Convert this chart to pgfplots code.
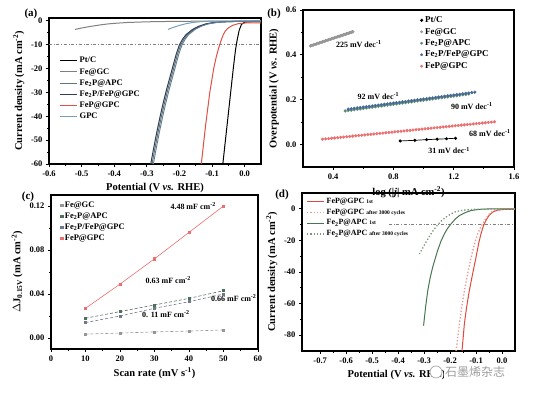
\documentclass[border=0pt]{standalone}
\usepackage{pgfplots}
\pgfplotsset{compat=1.18}
\usepackage{fontspec}
\setmainfont{Liberation Serif}
\newfontfamily\cjk{Noto Sans CJK SC}
\definecolor{cFeGC}{RGB}{128,128,128}
\definecolor{cAPC}{RGB}{96,120,108}
\definecolor{cMix}{RGB}{52,60,92}
\definecolor{cFeP}{RGB}{222,80,72}
\definecolor{cGPC}{RGB}{120,158,188}
\definecolor{bFeGC}{RGB}{150,150,150}
\definecolor{bAPC}{RGB}{95,140,115}
\definecolor{bMix}{RGB}{70,105,150}
\definecolor{bFeP}{RGB}{236,110,110}
\definecolor{dRed}{RGB}{220,75,62}
\definecolor{dRedL}{RGB}{238,150,140}
\definecolor{dGrn}{RGB}{72,118,80}
\definecolor{dGrnL}{RGB}{120,150,120}
\pgfplotsset{
  panel/.style={
    scale only axis, anchor=south west,
    axis line style={line width=1.1pt},
    tick align=outside, tick pos=left,
    major tick length=3pt, minor tick length=1.8pt,
    every tick/.append style={black, line width=0.8pt},
    minor x tick num=1, minor y tick num=1,
    tick label style={font=\bfseries\fontsize{8.5}{9}\selectfont},
    label style={font=\bfseries\fontsize{10.5}{12}\selectfont},
    legend cell align=left,
    legend style={draw=none, fill=none, font=\bfseries\fontsize{8.5}{9.5}\selectfont, row sep=0pt},
  },
  markleg/.style={legend image code/.code={\draw[##1, only marks, mark size=1.2pt] plot coordinates {(0.2cm,0cm)};}},
}
\begin{document}
\begin{tikzpicture}
\useasboundingbox (0,0) rectangle (547pt,395pt);
% ---------------- (a)
\begin{axis}[panel, at={(49pt,231pt)}, width=212pt, height=146pt,
  xmin=-0.6, xmax=0.05, ymin=-60, ymax=1.2,
  xtick={-0.6,-0.5,-0.4,-0.3,-0.2,-0.1,0},
  xticklabels={-0.6,-0.5,-0.4,-0.3,-0.2,-0.1,0.0},
  ytick={-60,-50,-40,-30,-20,-10,0},
  yticklabels={-60,-50,-40,-30,-20,-10,0},
  xlabel={Potential (V \textit{vs.} RHE)},
  ylabel={Current density (mA cm\textsuperscript{-2})},
  legend style={at={(0.035,0.76)}, anchor=north west},
]
\addplot[gray, dash dot, line width=0.6pt, forget plot] coordinates {(-0.6,-10) (0.05,-10)};
\addplot[black, line width=1pt] coordinates {(0.05,-0.3) (0.01,-0.4) (0.0,-0.6) (-0.01,-1.5) (-0.017,-4) (-0.023,-8) (-0.028,-12) (-0.035,-20) (-0.043,-30) (-0.051,-40) (-0.059,-50) (-0.067,-60)};
\addlegendentry{Pt/C}
\addplot[cFeGC, line width=1pt] coordinates {(-0.52,-3.6) (-0.50,-3.0) (-0.48,-2.5) (-0.46,-2.05) (-0.44,-1.65) (-0.42,-1.3) (-0.40,-1.05) (-0.36,-0.68) (-0.30,-0.4) (-0.25,-0.28) (-0.2,-0.2) (-0.1,-0.1) (0.05,-0.05)};
\addlegendentry{Fe@GC}
\addplot[cAPC, line width=1pt] coordinates {(0.05,-0.2) (0.0,-0.2) (-0.046,-0.3) (-0.076,-0.5) (-0.096,-0.8) (-0.116,-1.3) (-0.136,-2.2) (-0.156,-3.6) (-0.176,-5.8) (-0.186,-7.6) (-0.196,-10) (-0.206,-14) (-0.216,-19) (-0.226,-24) (-0.236,-29) (-0.246,-34.5) (-0.256,-40.5) (-0.266,-47) (-0.276,-54) (-0.284,-60)};
\addlegendentry{Fe\textsubscript{2}P@APC}
\addplot[cMix, line width=1pt] coordinates {(0.05,-0.2) (0.0,-0.2) (-0.05,-0.3) (-0.08,-0.5) (-0.10,-0.8) (-0.12,-1.3) (-0.14,-2.2) (-0.16,-3.6) (-0.18,-5.8) (-0.19,-7.6) (-0.20,-10) (-0.21,-14) (-0.22,-19) (-0.23,-24) (-0.24,-29) (-0.25,-34.5) (-0.26,-40.5) (-0.27,-47) (-0.28,-54) (-0.288,-60)};
\addlegendentry{Fe\textsubscript{2}P/FeP@GPC}
\addplot[cFeP, line width=1pt] coordinates {(0.05,-0.8) (0.0,-0.9) (-0.02,-1.2) (-0.035,-1.8) (-0.045,-2.5) (-0.053,-3.3) (-0.06,-4.4) (-0.066,-5.9) (-0.073,-8.5) (-0.08,-11.5) (-0.087,-15) (-0.095,-20) (-0.107,-30) (-0.12,-44) (-0.133,-60)};
\addlegendentry{FeP@GPC}
\addplot[cGPC, line width=1pt] coordinates {(-0.235,-3.6) (-0.22,-2.8) (-0.20,-1.9) (-0.18,-1.2) (-0.16,-0.7) (-0.14,-0.4) (-0.12,-0.2) (-0.1,-0.1) (0.05,0)};
\addlegendentry{GPC}
\addplot[cGPC!80!black, line width=0.9pt, forget plot] coordinates {(0.05,-0.2) (0.0,-0.2) (-0.042,-0.3) (-0.072,-0.5) (-0.092,-0.8) (-0.112,-1.3) (-0.132,-2.2) (-0.152,-3.6) (-0.172,-5.8) (-0.182,-7.6) (-0.192,-10) (-0.202,-14) (-0.212,-19) (-0.222,-24) (-0.232,-29) (-0.242,-34.5) (-0.252,-40.5) (-0.262,-47) (-0.272,-54) (-0.280,-60)};
\end{axis}
% ---------------- (b)
\begin{axis}[panel, at={(303pt,228pt)}, width=211pt, height=157pt,
  xmin=0.2, xmax=1.6, ymin=-0.1, ymax=0.6,
  xtick={0.4,0.8,1.2,1.6}, xticklabels={0.4,0.8,1.2,1.6},
  ytick={0,0.2,0.4,0.6}, yticklabels={0.0,0.2,0.4,0.6},
  xlabel={log (|\textit{j}| mA cm\textsuperscript{-2})},
  ylabel={Overpotential (V \textit{vs.} RHE)},
  legend style={at={(0.54,0.985)}, anchor=north west, font=\bfseries\fontsize{9}{10.5}\selectfont},
]
\addplot[black, line width=0.7pt, mark=*, mark size=1.2pt, legend image code/.code={\fill[black] (0.2cm,0cm) circle (1.2pt);}] coordinates {(0.845,0.016) (0.942,0.019) (1.02,0.022) (1.09,0.024) (1.152,0.026) (1.212,0.028)};
\addlegendentry{Pt/C}
\addplot[bFeGC, only marks, mark=*, mark size=1.5pt, markleg] coordinates {(0.25,0.4400) (0.26,0.44225) (0.27,0.4445) (0.28,0.44675) (0.29,0.449) (0.30,0.45125) (0.31,0.4535) (0.32,0.45575) (0.33,0.458) (0.34,0.46025) (0.35,0.4625) (0.36,0.46475) (0.37,0.467) (0.38,0.46925) (0.39,0.4715) (0.40,0.47375) (0.41,0.476) (0.42,0.47825) (0.43,0.4805) (0.44,0.48275) (0.45,0.485) (0.46,0.48725) (0.47,0.4895) (0.48,0.49175) (0.49,0.494) (0.50,0.49625) (0.51,0.4985) (0.52,0.50075) (0.53,0.503)};
\addlegendentry{Fe@GC}
\addplot[bAPC, only marks, mark=*, mark size=1.4pt, markleg] coordinates {(0.48,0.1500) (0.50,0.1518) (0.52,0.1537) (0.54,0.1555) (0.56,0.1574) (0.58,0.1592) (0.60,0.1610) (0.62,0.1629) (0.64,0.1647) (0.66,0.1666) (0.68,0.1684) (0.70,0.1702) (0.72,0.1721) (0.74,0.1739) (0.76,0.1758) (0.78,0.1776) (0.80,0.1794) (0.82,0.1813) (0.84,0.1831) (0.86,0.1850) (0.88,0.1868) (0.90,0.1886) (0.92,0.1905) (0.94,0.1923) (0.96,0.1942) (0.98,0.1960) (1.00,0.1978) (1.02,0.1997) (1.04,0.2015) (1.06,0.2034) (1.08,0.2052) (1.10,0.2070) (1.12,0.2089) (1.14,0.2107) (1.16,0.2126) (1.18,0.2144) (1.20,0.2162) (1.22,0.2181) (1.24,0.2199) (1.26,0.2218) (1.28,0.2236) (1.30,0.2254)};
\addlegendentry{Fe\textsubscript{2}P@APC}
\addplot[bMix, only marks, mark=*, mark size=1.4pt, markleg] coordinates {(0.50,0.1580) (0.52,0.1598) (0.54,0.1616) (0.56,0.1634) (0.58,0.1652) (0.60,0.1670) (0.62,0.1688) (0.64,0.1706) (0.66,0.1724) (0.68,0.1742) (0.70,0.1760) (0.72,0.1778) (0.74,0.1796) (0.76,0.1814) (0.78,0.1832) (0.80,0.1850) (0.82,0.1868) (0.84,0.1886) (0.86,0.1904) (0.88,0.1922) (0.90,0.1940) (0.92,0.1958) (0.94,0.1976) (0.96,0.1994) (0.98,0.2012) (1.00,0.2030) (1.02,0.2048) (1.04,0.2066) (1.06,0.2084) (1.08,0.2102) (1.10,0.2120) (1.12,0.2138) (1.14,0.2156) (1.16,0.2174) (1.18,0.2192) (1.20,0.2210) (1.22,0.2228) (1.24,0.2246) (1.26,0.2264) (1.28,0.2282) (1.30,0.2300) (1.32,0.2318) (1.34,0.2336)};
\addlegendentry{Fe\textsubscript{2}P/FeP@GPC}
\addplot[bFeP, only marks, mark=*, mark size=1.4pt, markleg] coordinates {(0.33,0.0240) (0.35,0.0254) (0.37,0.0267) (0.39,0.0281) (0.41,0.0294) (0.43,0.0308) (0.45,0.0322) (0.47,0.0335) (0.49,0.0349) (0.51,0.0362) (0.53,0.0376) (0.55,0.0390) (0.57,0.0403) (0.59,0.0417) (0.61,0.0430) (0.63,0.0444) (0.65,0.0458) (0.67,0.0471) (0.69,0.0485) (0.71,0.0498) (0.73,0.0512) (0.75,0.0526) (0.77,0.0539) (0.79,0.0553) (0.81,0.0566) (0.83,0.0580) (0.85,0.0594) (0.87,0.0607) (0.89,0.0621) (0.91,0.0634) (0.93,0.0648) (0.95,0.0662) (0.97,0.0675) (0.99,0.0689) (1.01,0.0702) (1.03,0.0716) (1.05,0.0730) (1.07,0.0743) (1.09,0.0757) (1.11,0.0770) (1.13,0.0784) (1.15,0.0798) (1.17,0.0811) (1.19,0.0825) (1.21,0.0838) (1.23,0.0852) (1.25,0.0866) (1.27,0.0879) (1.29,0.0893) (1.31,0.0906) (1.33,0.0920) (1.35,0.0934) (1.37,0.0947) (1.39,0.0961) (1.41,0.0974) (1.43,0.0988) (1.45,0.1002) (1.47,0.1015)};
\addlegendentry{FeP@GPC}
\begin{scope}[font=\bfseries\fontsize{8}{9}\selectfont]
\node at (axis cs:0.57,0.448) {225 mV dec\textsuperscript{-1}};
\node at (axis cs:0.70,0.215) {92 mV dec\textsuperscript{-1}};
\node at (axis cs:1.32,0.173) {90 mV dec\textsuperscript{-1}};
\node at (axis cs:1.44,0.050) {68 mV dec\textsuperscript{-1}};
\node at (axis cs:1.17,-0.027) {31 mV dec\textsuperscript{-1}};
\end{scope}
\end{axis}
% ---------------- (c)
\begin{axis}[panel, at={(51pt,46pt)}, width=207pt, height=154pt,
  xmin=0, xmax=60, ymin=-0.01, ymax=0.13,
  xtick={0,10,20,30,40,50,60}, xticklabels={0,10,20,30,40,50,60},
  ytick={0,0.04,0.08,0.12}, yticklabels={0.00,0.04,0.08,0.12},
  xlabel={Scan rate (mV s\textsuperscript{-1})},
  ylabel={$\Delta$J\textsubscript{0.15V} (mA cm\textsuperscript{-2})},
  legend style={at={(0.03,0.985)}, anchor=north west, font=\bfseries\fontsize{8.5}{10}\selectfont},
]
\addplot[bFeGC, densely dashed, line width=0.6pt, mark=square*, mark size=1.1pt, mark options={solid}, markleg] coordinates {(10,0.0035) (20,0.0045) (30,0.0055) (40,0.0063) (50,0.0073)};
\addlegendentry{Fe@GC}
\addplot[bAPC!80!black, densely dashed, line width=0.6pt, mark=square*, mark size=1.1pt, mark options={solid}, markleg] coordinates {(10,0.018) (20,0.024) (30,0.030) (40,0.036) (50,0.043)};
\addlegendentry{Fe\textsubscript{2}P@APC}
\addplot[cMix!70, densely dashed, line width=0.6pt, mark=square*, mark size=1.1pt, mark options={solid}, markleg] coordinates {(10,0.014) (20,0.020) (30,0.027) (40,0.033) (50,0.040)};
\addlegendentry{Fe\textsubscript{2}P/FeP@GPC}
\addplot[bFeP, line width=0.6pt, mark=square*, mark size=1.1pt, markleg] coordinates {(10,0.027) (20,0.049) (30,0.072) (40,0.096) (50,0.120)};
\addlegendentry{FeP@GPC}
\begin{scope}[font=\bfseries\fontsize{8}{9}\selectfont]
\node at (axis cs:41.2,0.120) {4.48 mF cm\textsuperscript{-2}};
\node at (axis cs:34,0.053) {0.63 mF cm\textsuperscript{-2}};
\node at (axis cs:53,0.036) {0.66 mF cm\textsuperscript{-2}};
\node at (axis cs:33.3,0.0215) {0. 11 mF cm\textsuperscript{-2}};
\end{scope}
\end{axis}
% ---------------- (d)
\begin{axis}[panel, at={(302pt,44pt)}, width=213pt, height=158pt,
  xmin=-0.77, xmax=0.05, ymin=-90, ymax=10,
  xtick={-0.7,-0.6,-0.5,-0.4,-0.3,-0.2,-0.1,0},
  xticklabels={-0.7,-0.6,-0.5,-0.4,-0.3,-0.2,-0.1,0.0},
  ytick={-80,-60,-40,-20,0}, yticklabels={-80,-60,-40,-20,0},
  xlabel={Potential (V \textit{vs.} RHE)},
  xlabel style={xshift=-12pt},
  ylabel={Current density (mA cm\textsuperscript{-2})},
  legend style={at={(0.005,0.995)}, anchor=north west, font=\bfseries\fontsize{8}{9}\selectfont},
]
\addplot[gray, dash dot, line width=0.6pt, forget plot] coordinates {(-0.435,-10) (0.05,-10)};
\addplot[dRed, line width=1pt] coordinates {(0.05,-0.3) (0.02,-0.3) (0.0,-0.5) (-0.02,-1.0) (-0.036,-2.1) (-0.05,-4.2) (-0.062,-7.4) (-0.072,-11) (-0.081,-15.9) (-0.09,-22) (-0.1,-30.7) (-0.113,-41) (-0.126,-52) (-0.136,-62) (-0.145,-73) (-0.154,-90)};
\addlegendentry{FeP@GPC {\fontsize{5.5}{6}\selectfont 1st}}
\addplot[dRedL, dotted, line width=1.3pt] coordinates {(0.05,-0.2) (0.02,-0.3) (0.0,-0.4) (-0.02,-0.8) (-0.036,-1.5) (-0.05,-3.5) (-0.068,-7.4) (-0.08,-11) (-0.094,-15.9) (-0.107,-23) (-0.119,-30.7) (-0.132,-41) (-0.145,-52) (-0.155,-62) (-0.164,-73) (-0.177,-90)};
\addlegendentry{FeP@GPC {\fontsize{5.5}{6}\selectfont after 3000 cycles}}
\addplot[dGrn, line width=1pt] coordinates {(0.05,0) (-0.03,0) (-0.055,-0.1) (-0.09,-0.4) (-0.119,-1.1) (-0.14,-2.3) (-0.164,-4.3) (-0.18,-6.5) (-0.196,-9.5) (-0.21,-12.5) (-0.222,-15.9) (-0.235,-20.5) (-0.248,-26.5) (-0.258,-32) (-0.267,-37) (-0.277,-44) (-0.286,-52) (-0.294,-62) (-0.302,-74)};
\addlegendentry{Fe\textsubscript{2}P@APC {\fontsize{5.5}{6}\selectfont 1st}}
\addplot[dGrnL, dotted, line width=1.3pt] coordinates {(0.05,0) (-0.1,-0.3) (-0.15,-0.9) (-0.177,-1.7) (-0.196,-3.2) (-0.216,-5.3) (-0.235,-7.9) (-0.25,-10.6) (-0.267,-14.2) (-0.28,-17.6) (-0.293,-21.2) (-0.305,-24.8) (-0.318,-28.6)};
\addlegendentry{Fe\textsubscript{2}P@APC {\fontsize{5.5}{6}\selectfont after 3000 cycles}}
\end{axis}
% panel letters
\begin{scope}[font=\bfseries\fontsize{11}{12}\selectfont]
\node at (31pt,381pt) {(a)};
\node at (274pt,381pt) {(b)};
\node at (28pt,198pt) {(c)};
\node at (282pt,200pt) {(d)};
\end{scope}
% watermark
\draw[gray!70, line width=0.7pt, fill=white] (436pt,23pt) circle (6pt);
\node[anchor=west, fill=white, inner sep=1pt, text=gray!75, font=\cjk\fontsize{12}{12}\selectfont] at (444pt,23pt) {石墨烯杂志};
\end{tikzpicture}
\end{document}
